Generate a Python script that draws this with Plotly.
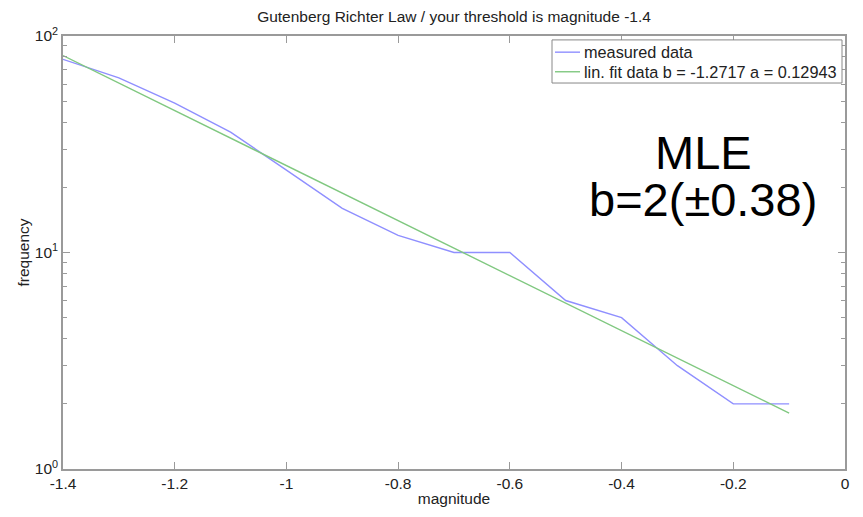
import plotly.graph_objects as go

# ---- data ----
magnitude = [-1.4, -1.3, -1.2, -1.1, -1.0, -0.9, -0.8, -0.7, -0.6, -0.5, -0.4, -0.3, -0.2, -0.1]
measured_freq = [78, 64, 49, 36, 24, 16, 12, 10, 10, 6, 5, 3, 2, 2]
fit_mag = [-1.4, -0.1]
fit_freq = [81.2, 1.81]

series_names = ["measured data", "lin. fit data b = -1.2717 a = 0.12943"]

x_tickvals = [-1.4, -1.2, -1.0, -0.8, -0.6, -0.4, -0.2, 0.0]
x_ticktext = ["-1.4", "-1.2", "-1", "-0.8", "-0.6", "-0.4", "-0.2", "0"]
y_tickvals = [1, 10, 100]
y_ticktext = ["10<sup>0</sup>", "10<sup>1</sup>", "10<sup>2</sup>"]

FONT = "Liberation Sans, Arial, sans-serif"
AXIS_GRAY = "#9a9a9a"
TXT = "#222222"
BLUE = "#8f8fff"
GREEN = "#80c880"

# plot area in pixels
L, R, T, B = 63, 845, 36, 478


def px_x(p):
    return (p - L) / (R - L)


def px_y(p):
    return (B - p) / (B - T)


fig = go.Figure()
fig.add_trace(go.Scatter(x=magnitude, y=measured_freq, mode="lines",
                         name=series_names[0], showlegend=False,
                         line=dict(color=BLUE, width=1.4)))
fig.add_trace(go.Scatter(x=fit_mag, y=fit_freq, mode="lines",
                         name=series_names[1], showlegend=False,
                         line=dict(color=GREEN, width=1.4)))

fig.update_layout(
    width=863, height=517,
    margin=dict(l=L, r=863 - R, t=T, b=517 - B, pad=0),
    paper_bgcolor="white", plot_bgcolor="white",
    font=dict(family=FONT, size=16, color=TXT),
    title=dict(text="Gutenberg Richter Law / your threshold is magnitude -1.4",
               x=0.5, xref="paper", xanchor="center",
               y=1 - 17 / 517, yref="container", yanchor="middle",
               font=dict(size=15.5, color=TXT)),
    showlegend=False,
    xaxis=dict(range=[-1.4, 0], tickvals=x_tickvals, ticktext=x_ticktext,
               showgrid=False, zeroline=False,
               showline=True, linecolor=AXIS_GRAY, linewidth=1.5, mirror="ticks",
               ticks="inside", ticklen=7, tickcolor=AXIS_GRAY, tickwidth=1,
               tickfont=dict(size=15.5, color=TXT),
               title=dict(text="magnitude", font=dict(size=15.5, color=TXT), standoff=2)),
    yaxis=dict(type="log", range=[0, 2], tickvals=y_tickvals, ticktext=y_ticktext,
               showgrid=False, zeroline=False,
               showline=True, linecolor=AXIS_GRAY, linewidth=1.5, mirror="ticks",
               ticks="inside", ticklen=7, tickcolor=AXIS_GRAY, tickwidth=1,
               tickfont=dict(size=15.5, color=TXT),
               minor=dict(ticks="inside", ticklen=4, tickcolor=AXIS_GRAY,
                          dtick="D1", showgrid=False),
               title=dict(text="frequency", font=dict(size=15.5, color=TXT), standoff=1)),
)

# ---- legend box (MATLAB style) ----
fig.add_shape(type="rect", xref="paper", yref="paper",
              x0=px_x(552), x1=px_x(842), y0=px_y(84), y1=px_y(40),
              line=dict(color="#888888", width=1), fillcolor="white", layer="above")
for name, color, yrow in [(series_names[0], BLUE, 52.5), (series_names[1], GREEN, 72.5)]:
    fig.add_shape(type="line", xref="paper", yref="paper",
                  x0=px_x(555), x1=px_x(580), y0=px_y(yrow), y1=px_y(yrow),
                  line=dict(color=color, width=1.4), layer="above")
    fig.add_annotation(text=name, xref="paper", yref="paper",
                       x=px_x(582), y=px_y(yrow), xanchor="left", yanchor="middle",
                       showarrow=False, font=dict(family=FONT, size=16.3, color=TXT))

# ---- MLE annotation ----
fig.add_annotation(text="MLE", xref="paper", yref="paper",
                   x=px_x(703), y=px_y(155),
                   xanchor="center", yanchor="middle", showarrow=False,
                   font=dict(family=FONT, size=47, color="black"))
fig.add_annotation(text="b=2(±0.38)", xref="paper", yref="paper",
                   x=px_x(703), y=px_y(203),
                   xanchor="center", yanchor="middle", showarrow=False,
                   font=dict(family=FONT, size=47, color="black"))

fig.write_html("out.html")
